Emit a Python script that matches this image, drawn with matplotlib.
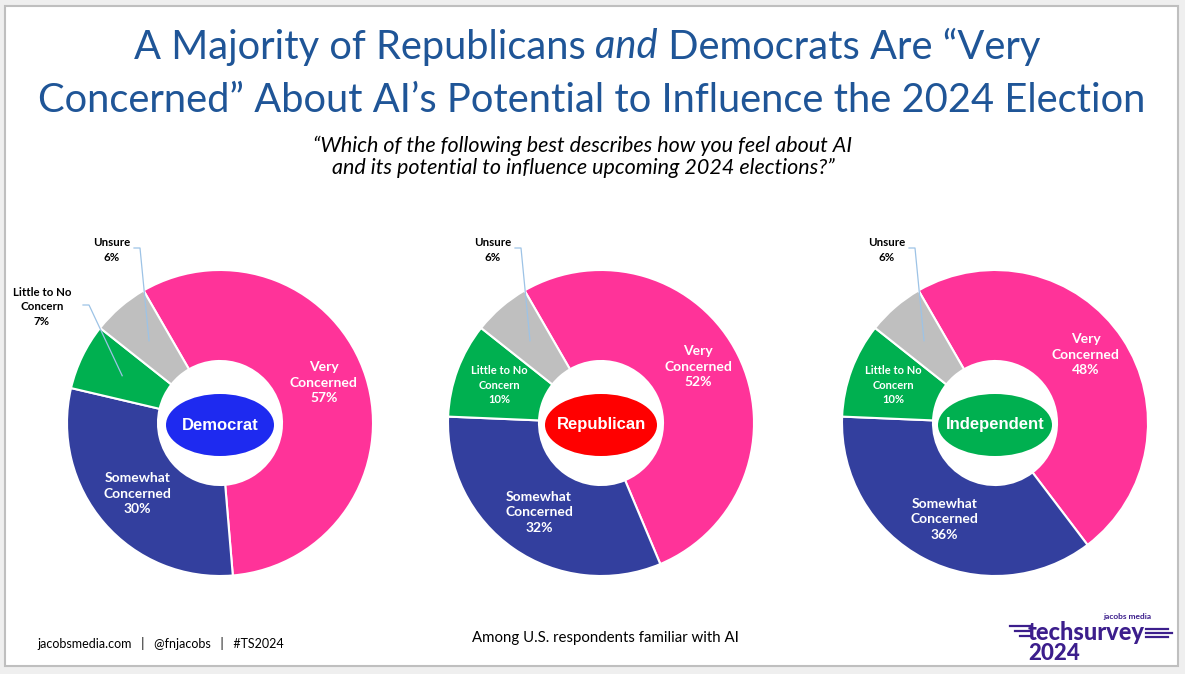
import numpy as np
import matplotlib.pyplot as plt
from matplotlib.patches import Ellipse, Rectangle

# survey data (percent)
categories = ["Very\nConcerned", "Somewhat\nConcerned", "Little to No\nConcern", "Unsure"]
groups = ["Democrat", "Republican", "Independent"]
democrat = [57, 30, 7, 6]
republican = [52, 32, 10, 6]
independent = [48, 36, 10, 6]

slice_colors = ["#FF3399", "#333F9E", "#00B050", "#BFBFBF"]
group_colors = ["#1E2AF0", "#FF0000", "#00B050"]
title_color = "#1F5597"
logo_color = "#3C1E8C"

W, H = 1185, 674


def Y(y):
    # image rows -> data coords (y up)
    return H - y


fig = plt.figure(figsize=(W / 100, H / 100), dpi=100, facecolor="#EFEFEF")
ax = fig.add_axes([0, 0, 1, 1])

# slide
ax.add_patch(Rectangle((5, Y(666)), 1173, 660, facecolor="white",
                       edgecolor="#BFBFBF", lw=1.5, zorder=0))

R = 153
hole = 62
centers = [(220, 423), (601, 423), (995, 423)]
ell_w = [108, 112, 114]
values = [democrat, republican, independent]

for g, (cx, cy) in enumerate(centers):
    vals = values[g]
    wedges, _ = ax.pie(vals, colors=slice_colors, startangle=120, counterclock=False,
                       radius=R, center=(cx, Y(cy)),
                       wedgeprops=dict(width=R - hole, edgecolor="white", linewidth=1.5))
    for i, w in enumerate(wedges):
        mid = np.deg2rad((w.theta1 + w.theta2) / 2)
        r = 0.71 * R
        px, py = cx + r * np.cos(mid), Y(cy) + r * np.sin(mid)
        label = categories[i] + "\n" + str(vals[i]) + "%"
        inside = vals[i] >= 10
        if inside:
            if i == 0:
                py += 8
            ax.text(px, py, label, ha="center", va="center", color="white",
                    fontsize=10 if i < 2 else 8, fontweight="bold", family="Lato",
                    linespacing=1.35, zorder=5)
        else:
            # outside label with leader line
            if i == 3:
                tx, ty = cx - 108, Y(cy) + 173
                ex = cx - 80
            else:
                tx, ty = cx - 178, Y(cy) + 116
                ex = cx - 131
            ax.text(tx, ty, label, ha="center", va="center", color="black",
                    fontsize=8.3, fontweight="bold", family="Lato",
                    linespacing=1.35, zorder=5)
            ax.plot([ex - 6, ex, px], [ty + 2, ty + 2, py], color="#9DC3E6",
                    lw=0.9, zorder=6)
    ax.add_patch(Ellipse((cx, Y(cy) - 2), ell_w[g], 62, facecolor=group_colors[g],
                         edgecolor="none", zorder=7))
    ax.text(cx, Y(cy) - 2, groups[g], ha="center", va="center", color="white",
            fontsize=12, fontweight="bold", family="Liberation Sans", zorder=8)

ax.set_xlim(0, W)
ax.set_ylim(0, H)
ax.set_aspect("equal")
ax.axis("off")

# title with italic "and"
renderer = fig.canvas.get_renderer()
parts = [("A Majority of Republicans ", "normal"), ("and", "italic"),
         (" Democrats Are \u201cVery", "normal")]
tsize = 28.7
pieces = []
for s, st in parts:
    t = ax.text(0, Y(47), s, fontsize=tsize, family="Lato", style=st,
                color=title_color, va="center", ha="left")
    pieces.append(t)
widths = [p.get_window_extent(renderer).width for p in pieces]
x0 = 587 - sum(widths) / 2
for p, wd in zip(pieces, widths):
    p.set_x(x0)
    x0 += wd
ax.text(592, Y(100), "Concerned\u201d About AI\u2019s Potential to Influence the 2024 Election",
        fontsize=tsize, family="Lato", color=title_color, ha="center", va="center")

ax.text(583, Y(157), "\u201cWhich of the following best describes how you feel about AI\n"
        "and its potential to influence upcoming 2024 elections?\u201d",
        fontsize=15.5, family="Lato", style="italic", ha="center", va="center",
        linespacing=1.15)

# footer
ax.text(37, Y(643), "jacobsmedia.com   |   @fnjacobs   |   #TS2024", fontsize=9,
        family="Lato", ha="left", va="center")
ax.text(605, Y(638), "Among U.S. respondents familiar with AI", fontsize=10.8,
        family="Lato", ha="center", va="center")

# logo
ax.text(1151, Y(617), "jacobs media", fontsize=6, family="Lato", fontweight="bold",
        color=logo_color, ha="right", va="center")
ax.text(1028, Y(633), "techsurvey", fontsize=17, family="Lato", fontweight="black",
        color=logo_color, ha="left", va="center")
ax.text(1028, Y(653), "2024", fontsize=16, family="Lato", fontweight="black",
        color=logo_color, ha="left", va="center")
for yy, x1, x2 in [(626, 1010, 1030), (631, 1015, 1030), (636, 1020, 1030),
                   (629, 1146, 1168), (633, 1146, 1172), (637, 1146, 1168)]:
    ax.plot([x1, x2], [Y(yy), Y(yy)], color=logo_color, lw=1.6)

fig.savefig("out.png", dpi=100, facecolor=fig.get_facecolor())
